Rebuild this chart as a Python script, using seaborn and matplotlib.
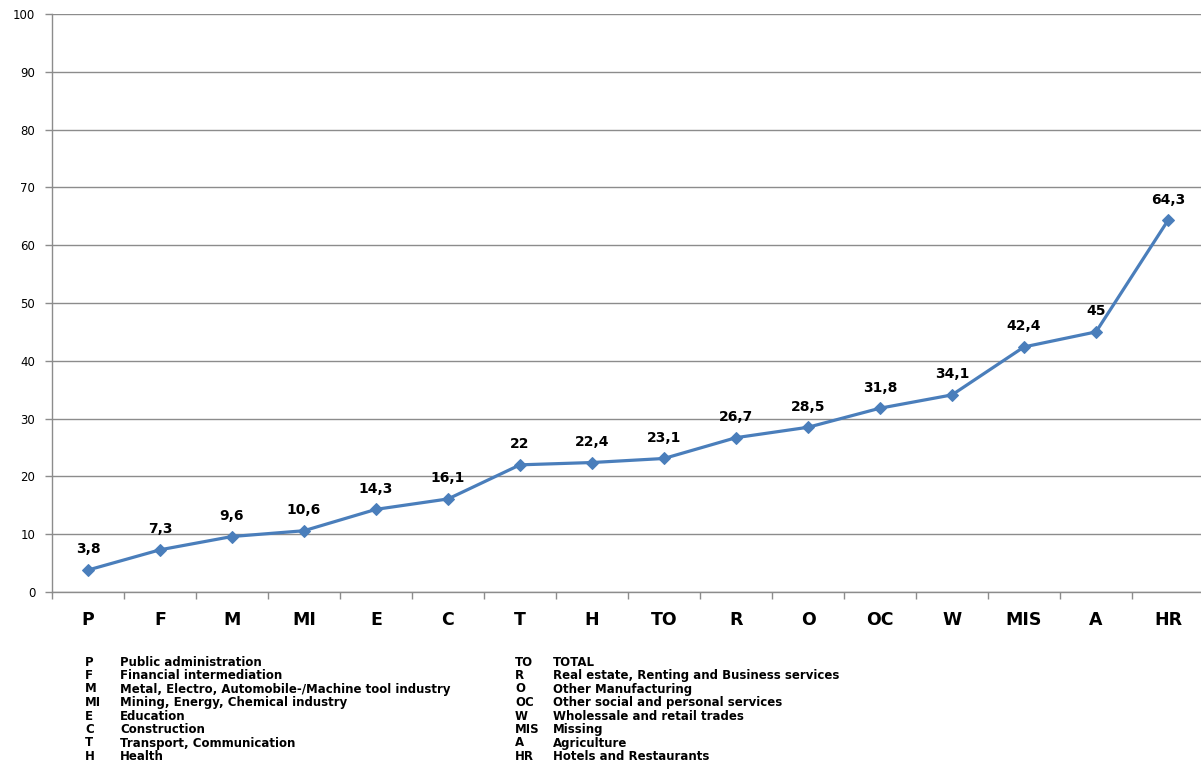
import matplotlib
matplotlib.use("Agg")
import matplotlib.pyplot as plt
from matplotlib.ticker import FixedLocator, MultipleLocator
import seaborn as sns
import pandas as pd
import numpy as np

categories = ["P", "F", "M", "MI", "E", "C", "T", "H", "TO", "R", "O", "OC", "W", "MIS", "A", "HR"]
values = [3.8, 7.3, 9.6, 10.6, 14.3, 16.1, 22, 22.4, 23.1, 26.7, 28.5, 31.8, 34.1, 42.4, 45, 64.3]
value_labels = ["3,8", "7,3", "9,6", "10,6", "14,3", "16,1", "22", "22,4", "23,1", "26,7", "28,5",
                "31,8", "34,1", "42,4", "45", "64,3"]
legend_left = [("P", "Public administration"), ("F", "Financial intermediation"),
               ("M", "Metal, Electro, Automobile-/Machine tool industry"),
               ("MI", "Mining, Energy, Chemical industry"), ("E", "Education"),
               ("C", "Construction"), ("T", "Transport, Communication"), ("H", "Health")]
legend_right = [("TO", "TOTAL"), ("R", "Real estate, Renting and Business services"),
                ("O", "Other Manufacturing"), ("OC", "Other social and personal services"),
                ("W", "Wholessale and retail trades"), ("MIS", "Missing"),
                ("A", "Agriculture"), ("HR", "Hotels and Restaurants")]

sns.set_style("white")
plt.rcParams["font.family"] = ["DejaVu Sans"]

W, H = 1201, 765
fig = plt.figure(figsize=(W / 100, H / 100), dpi=100)
ax = fig.add_axes([52 / W, (H - 592) / H, (1204 - 52) / W, (592 - 14) / H])

df = pd.DataFrame({"x": np.arange(len(categories)), "y": values})
line_color = "#4A7EBB"
sns.lineplot(data=df, x="x", y="y", ax=ax, color=line_color, linewidth=2.3,
             marker="D", markersize=6.5, markeredgecolor=line_color, markerfacecolor=line_color)

ax.set_xlim(-0.5, len(categories) - 0.5)
ax.set_ylim(0, 100)
ax.yaxis.set_major_locator(MultipleLocator(10))
ax.grid(axis="y", color="#8C8C8C", linewidth=1)
ax.grid(axis="x", visible=False)
ax.set_axisbelow(True)

ax.set_xticks(np.arange(len(categories)))
ax.set_xticklabels(categories, fontsize=12.5, fontweight="bold", color="black")
ax.tick_params(axis="x", which="major", bottom=False, length=0, pad=14)
ax.xaxis.set_minor_locator(FixedLocator(np.arange(-0.5, len(categories), 1.0)))
ax.tick_params(axis="x", which="minor", bottom=True, length=5, color="#8C8C8C", width=1)
ax.tick_params(axis="y", left=True, length=5, color="#8C8C8C", width=1, labelsize=8.5,
               pad=7, labelcolor="black")
ax.set_xlabel("")
ax.set_ylabel("")

for s in ["top", "right"]:
    ax.spines[s].set_visible(False)
for s in ["left", "bottom"]:
    ax.spines[s].set_color("#8C8C8C")
    ax.spines[s].set_linewidth(1)

for i, (v, lab) in enumerate(zip(values, value_labels)):
    ax.annotate(lab, (i, v), xytext=(0, 12), textcoords="offset points",
                ha="center", va="baseline", fontsize=10, fontweight="bold", color="black")

y0 = 662
dy = 13.5
fs = 8.5
for k, (ab, desc) in enumerate(legend_left):
    y = 1 - (y0 + k * dy) / H
    fig.text(85 / W, y, ab, fontsize=fs, fontweight="bold", va="center", color="black")
    fig.text(120 / W, y, desc, fontsize=fs, fontweight="bold", va="center", color="black")
for k, (ab, desc) in enumerate(legend_right):
    y = 1 - (y0 + k * dy) / H
    fig.text(515 / W, y, ab, fontsize=fs, fontweight="bold", va="center", color="black")
    fig.text(553 / W, y, desc, fontsize=fs, fontweight="bold", va="center", color="black")

fig.savefig("out.png", dpi=100)
